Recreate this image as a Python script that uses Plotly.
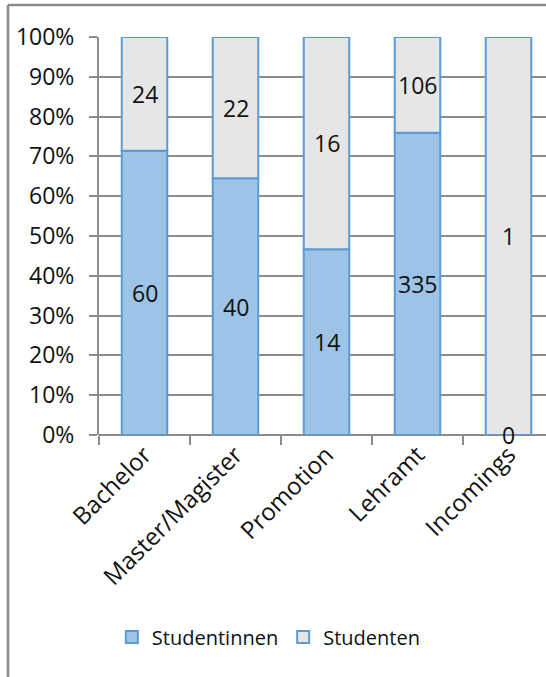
import plotly.graph_objects as go

# Studierende nach Abschluss
categories = ["Bachelor", "Master/Magister", "Promotion", "Lehramt", "Incomings"]
studentinnen = [60, 40, 14, 335, 0]
studenten = [24, 22, 16, 106, 1]
y_ticks = [0, 10, 20, 30, 40, 50, 60, 70, 80, 90, 100]

FONT = "Open Sans"
FILL_F = "#9dc3e6"
FILL_M = "#e7e6e6"
EDGE = "#5b9bd5"
GRID = "#8c8c8c"
TXT = "#111111"

W, H = 546, 677
L, T, B = 99, 37, 242

fig = go.Figure()
fig.add_trace(go.Bar(
    name="Studentinnen", x=categories, y=studentinnen,
    marker=dict(color=FILL_F, line=dict(color=EDGE, width=2)),
    width=0.5,
))
fig.add_trace(go.Bar(
    name="Studenten", x=categories, y=studenten,
    marker=dict(color=FILL_M, line=dict(color=EDGE, width=2)),
    width=0.5,
))

# value labels centred in each segment
for i, c in enumerate(categories):
    tot = studentinnen[i] + studenten[i]
    pf = 100.0 * studentinnen[i] / tot
    pm = 100.0 * studenten[i] / tot
    fig.add_annotation(x=c, y=pf / 2, text=str(studentinnen[i]), showarrow=False,
                       font=dict(family=FONT, size=23, color=TXT))
    fig.add_annotation(x=c, y=pf + pm / 2, text=str(studenten[i]), showarrow=False,
                       font=dict(family=FONT, size=23, color=TXT))

plot_w = W - L
plot_h = H - T - B
# chart frame (left and top edges)
fx = (8 - L) / plot_w
fy = 1 + (T - 5) / plot_h
fig.add_shape(type="line", xref="paper", yref="paper", x0=fx, x1=fx, y0=fy, y1=-(B + 5) / plot_h,
              line=dict(color=GRID, width=2.5))
fig.add_shape(type="line", xref="paper", yref="paper", x0=fx, x1=1.05, y0=fy, y1=fy,
              line=dict(color=GRID, width=2.5))

fig.update_layout(
    width=W, height=H,
    margin=dict(l=L, r=0, t=T, b=B),
    barmode="relative", barnorm="percent",
    plot_bgcolor="white", paper_bgcolor="white",
    font=dict(family=FONT, size=23, color=TXT),
    showlegend=True,
    legend=dict(orientation="h", x=0.38, xanchor="center", y=-(637 - (H - B)) / plot_h,
                yanchor="middle", font=dict(size=20), itemsizing="constant",
                traceorder="normal", itemwidth=30),
    xaxis=dict(
        range=[-0.5, -0.5 + plot_w / 91.0], type="category",
        tickangle=-45, tickson="boundaries", ticks="outside", ticklen=9,
        tickcolor=GRID, tickwidth=2, showline=False, showgrid=False,
        tickfont=dict(size=24),
    ),
    yaxis=dict(
        range=[0, 100], tickvals=y_ticks, ticktext=[f"{v}%" for v in y_ticks],
        showgrid=True, gridcolor=GRID, gridwidth=2,
        showline=True, linecolor=GRID, linewidth=2,
        ticks="outside", ticklen=8, tickcolor=GRID, tickwidth=2,
        ticklabelstandoff=10,
        zeroline=True, zerolinecolor=GRID, zerolinewidth=2,
        tickfont=dict(size=23),
    ),
)

fig.write_html("out.html")
